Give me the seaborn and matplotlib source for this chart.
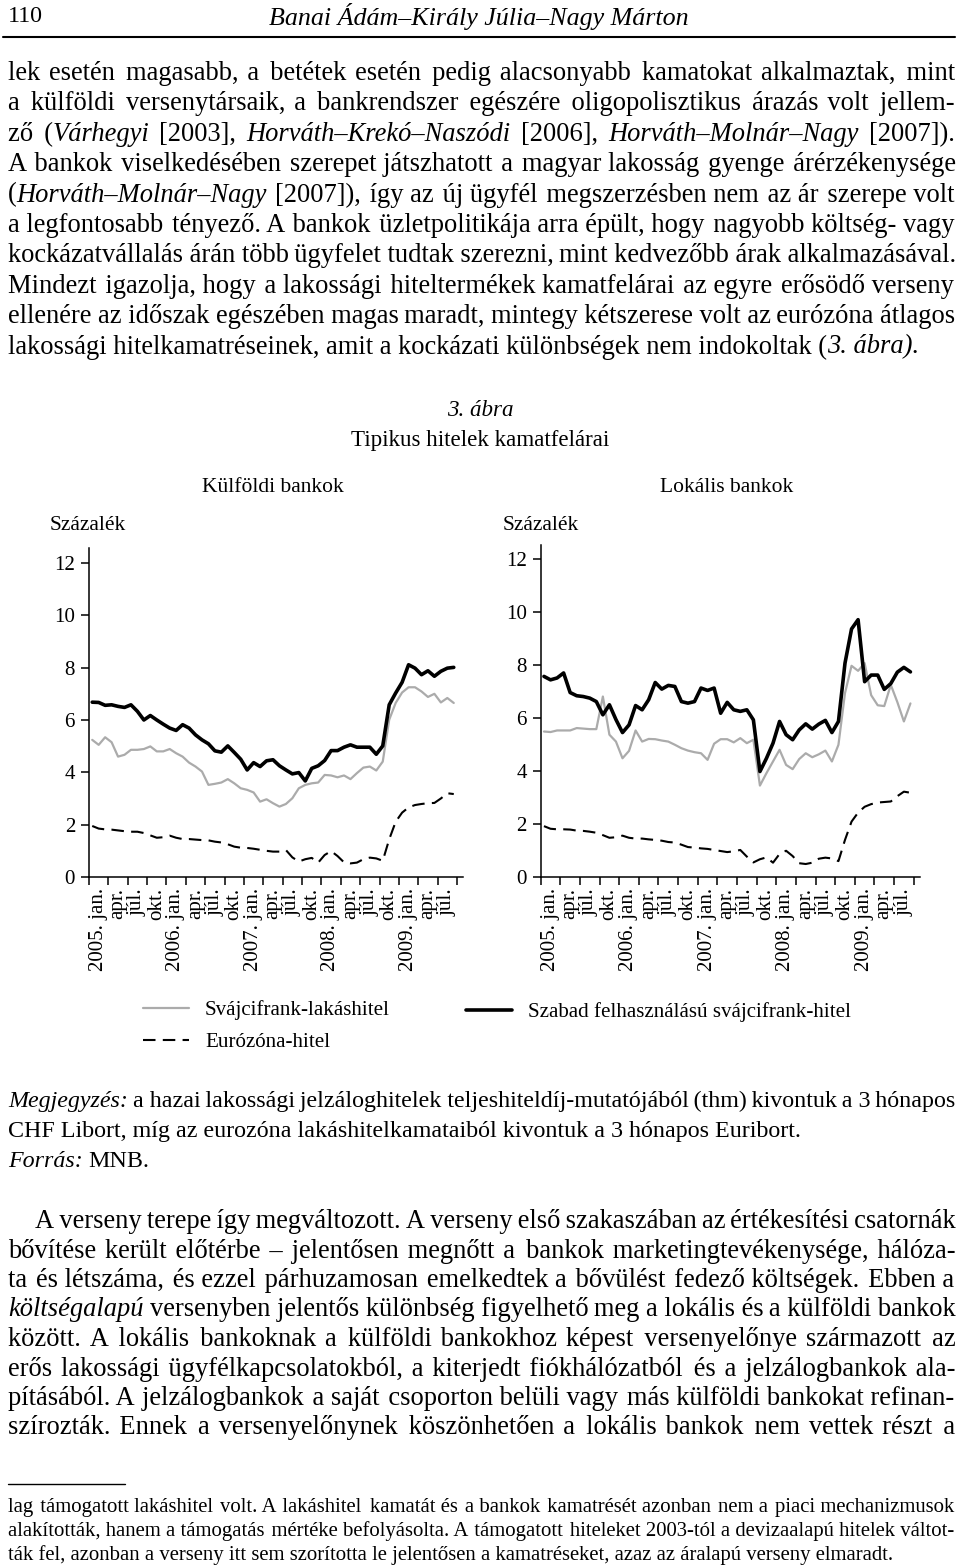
import numpy as np
import pandas as pd
import seaborn as sns
import matplotlib.pyplot as plt
from matplotlib.lines import Line2D

W, H = 960, 1567

# monthly values 2005 jan - 2009 sep, percent
kulf_lakas = [5.24, 5.05, 5.34, 5.15, 4.6, 4.67, 4.86, 4.86, 4.89, 4.99,
              4.8, 4.8, 4.89, 4.73, 4.6, 4.37, 4.22, 4.03, 3.52, 3.56,
              3.61, 3.74, 3.58, 3.39, 3.33, 3.23, 2.88, 2.97, 2.82, 2.69,
              2.79, 3.01, 3.39, 3.52, 3.58, 3.61, 3.9, 3.88, 3.81, 3.88,
              3.74, 3.97, 4.18, 4.22, 4.07, 4.41, 6.01, 6.65, 7.05, 7.25,
              7.25, 7.09, 6.88, 7.0, 6.67, 6.84, 6.65]
kulf_szabad = [6.68, 6.67, 6.56, 6.58, 6.52, 6.48, 6.58, 6.33, 6.0, 6.17,
               6.0, 5.84, 5.69, 5.6, 5.82, 5.69, 5.43, 5.24, 5.09, 4.82,
               4.77, 5.01, 4.76, 4.5, 4.09, 4.37, 4.22, 4.44, 4.48, 4.25,
               4.09, 3.94, 3.99, 3.67, 4.15, 4.25, 4.45, 4.83, 4.83, 4.96,
               5.05, 4.96, 4.96, 4.96, 4.69, 5.01, 6.58, 7.03, 7.44, 8.11,
               7.98, 7.73, 7.88, 7.67, 7.86, 7.98, 8.01]
kulf_euro = [1.95, 1.85, 1.82, 1.81, 1.78, 1.75, 1.73, 1.73, 1.68, 1.59,
             1.5, 1.52, 1.58, 1.5, 1.45, 1.45, 1.43, 1.41, 1.4, 1.35,
             1.32, 1.25, 1.16, 1.12, 1.11, 1.08, 1.04, 1.0, 0.97, 0.97,
             1.03, 0.75, 0.59, 0.68, 0.73, 0.55, 0.84, 0.99, 0.8, 0.56,
             0.52, 0.55, 0.68, 0.74, 0.71, 0.62, 1.44, 2.11, 2.46, 2.66,
             2.75, 2.79, 2.82, 2.83, 3.0, 3.2, 3.17]
lok_lakas = [5.49, 5.47, 5.53, 5.53, 5.53, 5.62, 5.6, 5.58, 5.58, 6.81,
             5.37, 5.11, 4.48, 4.76, 5.53, 5.11, 5.21, 5.2, 5.15, 5.11,
             4.99, 4.86, 4.77, 4.71, 4.67, 4.42, 5.03, 5.2, 5.2, 5.08,
             5.24, 5.05, 5.18, 3.45, 3.92, 4.36, 4.8, 4.23, 4.07, 4.45,
             4.67, 4.52, 4.63, 4.77, 4.36, 4.99, 6.94, 7.97, 7.78, 8.07,
             6.86, 6.48, 6.45, 7.25, 6.6, 5.87, 6.55]
lok_szabad = [7.57, 7.44, 7.51, 7.7, 6.96, 6.84, 6.81, 6.75, 6.62, 6.12,
              6.5, 5.94, 5.45, 5.74, 6.47, 6.31, 6.69, 7.34, 7.09, 7.23,
              7.19, 6.62, 6.56, 6.62, 7.13, 7.04, 7.13, 6.18, 6.59, 6.31,
              6.25, 6.31, 5.93, 3.98, 4.48, 5.05, 5.87, 5.37, 5.18, 5.55,
              5.78, 5.58, 5.77, 5.91, 5.45, 5.87, 8.07, 9.36, 9.71, 7.37,
              7.62, 7.62, 7.08, 7.3, 7.73, 7.91, 7.74]
lok_euro = [1.92, 1.82, 1.8, 1.8, 1.79, 1.75, 1.74, 1.71, 1.67, 1.58,
            1.48, 1.5, 1.56, 1.48, 1.45, 1.45, 1.42, 1.4, 1.37, 1.32,
            1.3, 1.22, 1.13, 1.11, 1.08, 1.06, 1.02, 0.98, 0.94, 0.97,
            1.02, 0.77, 0.55, 0.67, 0.74, 0.54, 0.87, 0.99, 0.79, 0.52,
            0.49, 0.54, 0.69, 0.73, 0.7, 0.6, 1.4, 2.09, 2.43, 2.65,
            2.75, 2.81, 2.83, 2.85, 3.05, 3.22, 3.18]

tick_labels = ['2005. jan.', 'apr.', 'júl.', 'okt.',
               '2006. jan.', 'apr.', 'júl.', 'okt.',
               '2007. jan.', 'apr.', 'júl.', 'okt.',
               '2008. jan.', 'apr.', 'júl.', 'okt.',
               '2009. jan.', 'apr.', 'júl.', '']
y_ticks = [0, 2, 4, 6, 8, 10, 12]
legend_labels = ['Svájcifrank-lakáshitel', 'Eurózóna-hitel',
                 'Szabad felhasználású svájcifrank-hitel']

# text of the page, _..._ marks italic
para1 = [
    "lek esetén magasabb, a betétek esetén pedig alacsonyabb kamatokat alkalmaztak, mint",
    "a külföldi versenytársaik, a bankrendszer egészére oligopolisztikus árazás volt jellem-",
    "ző (_Várhegyi_ [2003], _Horváth–Krekó–Naszódi_ [2006], _Horváth–Molnár–Nagy_ [2007]).",
    "A bankok viselkedésében szerepet játszhatott a magyar lakosság gyenge árérzékenysége",
    "(_Horváth–Molnár–Nagy_ [2007]), így az új ügyfél megszerzésben nem az ár szerepe volt",
    "a legfontosabb tényező. A bankok üzletpolitikája arra épült, hogy nagyobb költség- vagy",
    "kockázatvállalás árán több ügyfelet tudtak szerezni, mint kedvezőbb árak alkalmazásával.",
    "Mindezt igazolja, hogy a lakossági hiteltermékek kamatfelárai az egyre erősödő verseny",
    "ellenére az időszak egészében magas maradt, mintegy kétszerese volt az eurózóna átlagos",
    "lakossági hitelkamatréseinek, amit a kockázati különbségek nem indokoltak (_3. ábra)._",
]
note = [
    "_Megjegyzés:_ a hazai lakossági jelzáloghitelek teljeshiteldíj-mutatójából (thm) kivontuk a 3 hónapos",
    "CHF Libort, míg az eurozóna lakáshitelkamataiból kivontuk a 3 hónapos Euribort.",
    "_Forrás:_ MNB.",
]
para2 = [
    "A verseny terepe így megváltozott. A verseny első szakaszában az értékesítési csatornák",
    "bővítése került előtérbe – jelentősen megnőtt a bankok marketingtevékenysége, hálóza-",
    "ta és létszáma, és ezzel párhuzamosan emelkedtek a bővülést fedező költségek. Ebben a",
    "_költségalapú_ versenyben jelentős különbség figyelhető meg a lokális és a külföldi bankok",
    "között. A lokális bankoknak a külföldi bankokhoz képest versenyelőnye származott az",
    "erős lakossági ügyfélkapcsolatokból, a kiterjedt fiókhálózatból és a jelzálogbankok ala-",
    "pításából. A jelzálogbankok a saját csoporton belüli vagy más külföldi bankokat refinan-",
    "szírozták. Ennek a versenyelőnynek köszönhetően a lokális bankok nem vettek részt a",
]
footnote = [
    "lag támogatott lakáshitel volt. A lakáshitel kamatát és a bankok kamatrését azonban nem a piaci mechanizmusok",
    "alakították, hanem a támogatás mértéke befolyásolta. A támogatott hiteleket 2003-tól a devizaalapú hitelek váltot-",
    "ták fel, azonban a verseny itt sem szorította le jelentősen a kamatréseket, azaz az áralapú verseny elmaradt.",
]

sns.set_style('ticks')
plt.rcParams['font.family'] = ['Liberation Serif', 'DejaVu Serif', 'DejaVu Sans']
plt.rcParams['text.color'] = 'black'


def pt(px):
    return px * 0.72


fig = plt.figure(figsize=(W / 100, H / 100), dpi=100)
renderer = fig.canvas.get_renderer()

GRAY = '#ababab'


def make_axes(left, right, y0, ytop, xmax, ymax):
    ax = fig.add_axes([left / W, 1 - y0 / H, (right - left) / W, (y0 - ytop) / H])
    ax.set_xlim(0, xmax)
    ax.set_ylim(0, ymax)
    return ax


def draw_chart(ax, lakas, szabad, euro):
    df = pd.DataFrame({'honap': np.arange(len(lakas)) + 0.5,
                       'lakas': lakas, 'szabad': szabad, 'euro': euro})
    sns.lineplot(data=df, x='honap', y='lakas', ax=ax, color=GRAY, lw=1.6)
    sns.lineplot(data=df, x='honap', y='euro', ax=ax, color='black', lw=1.5)
    ax.lines[-1].set_dashes((6, 3.5))
    sns.lineplot(data=df, x='honap', y='szabad', ax=ax, color='black', lw=2.6)
    ax.set_xlabel('')
    ax.set_ylabel('')
    ax.set_xticks(np.arange(0, 58, 3))
    ax.set_xticklabels(tick_labels, rotation=90, ha='left', va='top',
                       fontsize=pt(21))
    ax.set_yticks(y_ticks)
    ax.set_yticklabels([str(v) for v in y_ticks], fontsize=pt(21))
    ax.tick_params(axis='both', direction='out', length=6, width=1.1,
                   color='black', labelcolor='black')
    ax.tick_params(axis='x', pad=2)
    ax.tick_params(axis='y', pad=4)
    sns.despine(ax=ax)
    for s in ['left', 'bottom']:
        ax.spines[s].set_linewidth(1.1)
        ax.spines[s].set_color('black')
    ax.grid(False)


# left: Külföldi bankok, right: Lokális bankok
ax1 = make_axes(89, 89 + 58 * 6.456, 877, 877 - 12.57 * 26.17, 58, 12.57)
ax2 = make_axes(540.7, 540.7 + 58 * 6.544, 877, 877 - 12.53 * 26.5, 58, 12.53)
draw_chart(ax1, kulf_lakas, kulf_szabad, kulf_euro)
draw_chart(ax2, lok_lakas, lok_szabad, lok_euro)

# --- justified text ---
_cache = {}


def text_w(s, size, italic):
    key = (s, size, italic)
    if key not in _cache:
        t = fig.text(0, 0, s, fontsize=size, style='italic' if italic else 'normal')
        _cache[key] = t.get_window_extent(renderer).width
        t.remove()
    return _cache[key]


def space_w(c, size, italic):
    return text_w('a' + c + 'a', size, italic) - text_w('aa', size, italic)


def spacer(need, size, italic):
    sp = space_w(' ', size, italic)
    thin = space_w('\u2009', size, italic)
    hair = max(space_w('\u200a', size, italic), 0.5)
    if need >= sp - hair / 2:
        base, rest = ' ', need - sp
    elif need >= thin - hair / 2:
        base, rest = '\u2009', need - thin
    else:
        base, rest = '', need
    k = max(0, int(round(rest / hair)))
    if base == '' and k == 0:
        k = 1
    return base + '\u200a' * k


def parse(line):
    words, cur, buf, it = [], [], '', False
    for ch in line:
        if ch == '_':
            if buf:
                cur.append((buf, it))
                buf = ''
            it = not it
        elif ch == ' ':
            if buf:
                cur.append((buf, it))
                buf = ''
            if cur:
                words.append(cur)
                cur = []
        else:
            buf += ch
    if buf:
        cur.append((buf, it))
    if cur:
        words.append(cur)
    return words


def put_line(line, y, x0, x1, size, justify=True):
    words = parse(line)
    widths = [sum(text_w(t, size, it) for t, it in w) for w in words]
    if justify and len(words) > 1:
        gap = (x1 - x0 - sum(widths)) / (len(words) - 1)
    else:
        gap = space_w(' ', size, False)
    frags = []
    x = x0
    for w, ww in zip(words, widths):
        xx = x
        for j, (t, it) in enumerate(w):
            frags.append((xx, t, it, j == 0))
            xx += text_w(t, size, it)
        x += ww + gap
    # one text object per run of same style, word gaps built from spaces
    runs = []
    for fx, t, it, new_word in frags:
        if runs and runs[-1][2] == it:
            r = runs[-1]
            if new_word:
                need = fx - r[0] - text_w(r[1], size, it)
                r[1] += spacer(need, size, it) + t
            else:
                r[1] += t
        else:
            runs.append([fx, t, it])
    for rx, s, it in runs:
        fig.text(rx / W, 1 - y / H, s, fontsize=size,
                 style='italic' if it else 'normal', ha='left', va='baseline')


def put_block(lines, y0, dy, size, justify, x0=8, x1=955, indent=0):
    for i, line in enumerate(lines):
        put_line(line, y0 + i * dy, x0 + (indent if i == 0 else 0), x1, size,
                 justify=justify[i])


# header
fig.text(8 / W, 1 - 16 / H, '110', fontsize=pt(24), ha='left', va='center')
fig.text(479 / W, 1 - 16 / H, 'Banai Ádám–Király Júlia–Nagy Márton',
         fontsize=pt(26), style='italic', ha='center', va='center')
fig.add_artist(Line2D([3 / W, 955 / W], [1 - 37 / H] * 2, color='black', lw=1.5,
                      transform=fig.transFigure))

put_block(para1, 80, 30.4, pt(26.5), [True] * 9 + [False])

# chart titles
fig.text(480 / W, 1 - 416 / H, '3. ábra', fontsize=pt(23), style='italic',
         ha='center', va='baseline')
fig.text(480 / W, 1 - 446 / H, 'Tipikus hitelek kamatfelárai', fontsize=pt(23),
         ha='center', va='baseline')
fig.text(273 / W, 1 - 492 / H, 'Külföldi bankok', fontsize=pt(21.5),
         ha='center', va='baseline')
fig.text(727 / W, 1 - 492 / H, 'Lokális bankok', fontsize=pt(21.5),
         ha='center', va='baseline')
fig.text(50 / W, 1 - 530 / H, 'Százalék', fontsize=pt(21.5), ha='left', va='baseline')
fig.text(503 / W, 1 - 530 / H, 'Százalék', fontsize=pt(21.5), ha='left', va='baseline')

# legend
h_gray = Line2D([], [], color=GRAY, lw=1.6)
h_dash = Line2D([], [], color='black', lw=1.5, dashes=(6, 3.5))
h_black = Line2D([], [], color='black', lw=2.6)
leg_kw = dict(loc='upper left', frameon=False, fontsize=pt(21), handlelength=2.2,
              handletextpad=0.75, labelspacing=0.6, borderpad=0, borderaxespad=0)
fig.legend([h_gray, h_dash], legend_labels[:2],
           bbox_to_anchor=(143 / W, 1 - 1000 / H), **leg_kw)
fig.legend([h_black], legend_labels[2:],
           bbox_to_anchor=(466 / W, 1 - 1002 / H), **leg_kw)

put_block(note, 1107, 30, pt(24), [True, False, False])
put_block(para2, 1228, 29.5, pt(26.5), [True] * 8, indent=27)

fig.add_artist(Line2D([8 / W, 125 / W], [1 - 1484 / H] * 2, color='black', lw=1,
                      transform=fig.transFigure))
put_block(footnote, 1512, 24, pt(20.8), [True, True, False])

fig.savefig('out.png', dpi=100)
